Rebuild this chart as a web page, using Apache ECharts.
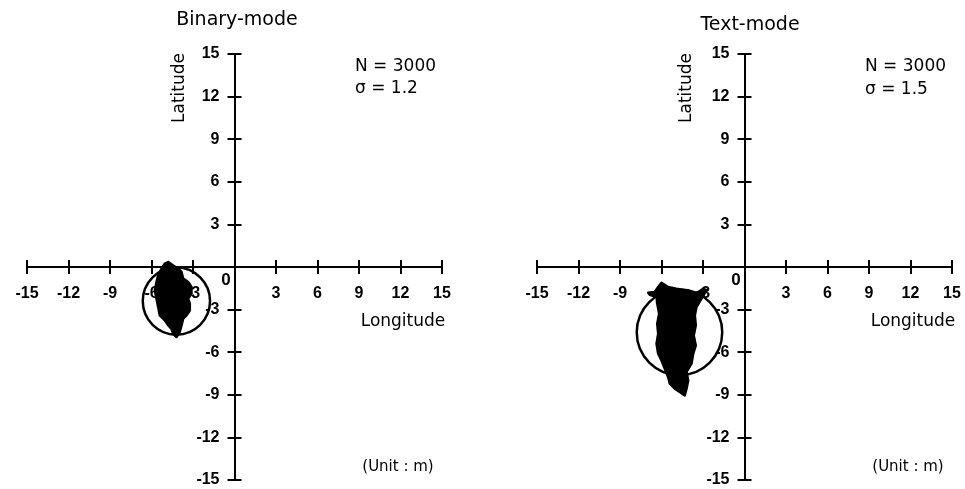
<!DOCTYPE html>
<html>
<head>
<meta charset="utf-8">
<script src="https://cdn.jsdelivr.net/npm/echarts@6/dist/echarts.min.js"></script>
<style>html,body{margin:0;padding:0;background:#fff}#c{width:965px;height:489px}</style>
</head>
<body>
<div id="c"></div>
<script>
// ---- data ----
const axisMin = -15, axisMax = 15, axisStep = 3;
const panelTitles = ['Binary-mode', 'Text-mode'];
const sampleCounts = ['N = 3000', 'N = 3000'];
const sigmaTexts = ['σ = 1.2', 'σ = 1.5'];
// 2-sigma circles: [centre x, centre y, radius] (m)
const binaryCircle = [[-4.2, -2.4, 2.4]];
const textCircle = [[-4.7, -4.6, 3.05]];
// outline of the dense position cloud (longitude, latitude) in m
const binaryCloud = [
  [-4.79, 0.35], [-4.43, 0.11], [-4.07, -0.12], [-3.83, -0.35], [-3.71, -0.82],
  [-3.35, -1.06], [-3.11, -1.41], [-3.11, -1.88], [-3.35, -2.23], [-3.23, -2.58],
  [-3.23, -3.06], [-3.47, -3.41], [-3.71, -3.64], [-3.83, -4.11], [-3.96, -4.58],
  [-4.19, -4.93], [-4.43, -4.70], [-4.56, -4.35], [-4.79, -4.11], [-5.04, -3.76],
  [-5.40, -3.41], [-5.52, -2.82], [-5.64, -2.23], [-5.76, -1.65], [-5.64, -1.06],
  [-5.52, -0.59], [-5.28, -0.12], [-5.04, 0.23]
];
const textCloud = [
  [-6.00, -1.11], [-5.52, -1.41], [-4.92, -1.53], [-4.19, -1.65], [-3.71, -1.88],
  [-3.35, -1.76], [-2.99, -1.53], [-2.75, -1.65], [-3.11, -2.23], [-3.47, -2.82],
  [-3.59, -3.41], [-3.52, -4.11], [-3.67, -4.82], [-3.52, -5.52], [-3.71, -6.11],
  [-3.83, -6.81], [-4.19, -7.39], [-4.07, -7.99], [-4.19, -8.57], [-4.32, -9.04],
  [-4.68, -8.80], [-5.04, -8.57], [-5.40, -8.22], [-5.52, -7.75], [-5.76, -7.16],
  [-6.00, -6.58], [-6.24, -6.11], [-6.36, -5.40], [-6.24, -4.70], [-6.31, -3.99],
  [-6.17, -3.29], [-6.31, -2.58], [-6.36, -2.11], [-6.85, -1.95], [-6.96, -1.81],
  [-6.49, -1.76], [-6.24, -1.41]
];

// ---- chart ----
const FONT = 'DejaVu Sans';
const TICKFONT = 'Liberation Sans';
const black = '#000';
const GW = 415, GH = 426;
const chart = echarts.init(document.getElementById('c'));

const fmt = v => (v === 0 ? '' : String(v));

function xAxes(grid) {
  const common = {
    type: 'value', gridIndex: grid, min: axisMin, max: axisMax, interval: axisStep,
    position: 'bottom', offset: -GH / 2,
    splitLine: { show: false },
    axisLine: { onZero: false, lineStyle: { color: black, width: 2 } }
  };
  return [
    Object.assign({}, common, {
      axisTick: { inside: false, length: 7, lineStyle: { color: black, width: 2 } },
      axisLabel: { margin: 19, color: black, fontFamily: TICKFONT, fontSize: 16,
        fontWeight: 'bold', formatter: fmt }
    }),
    Object.assign({}, common, {
      axisTick: { inside: true, length: 7, lineStyle: { color: black, width: 2 } },
      axisLabel: { show: false }
    })
  ];
}
function yAxes(grid) {
  const common = {
    type: 'value', gridIndex: grid, min: axisMin, max: axisMax, interval: axisStep,
    position: 'left', offset: -GW / 2,
    splitLine: { show: false },
    axisLine: { onZero: false, lineStyle: { color: black, width: 2 } }
  };
  return [
    Object.assign({}, common, {
      axisTick: { inside: false, length: 7, lineStyle: { color: black, width: 2 } },
      axisLabel: { margin: 15, color: black, fontFamily: TICKFONT, fontSize: 16,
        fontWeight: 'bold', formatter: fmt }
    }),
    Object.assign({}, common, {
      axisTick: { inside: true, length: 7, lineStyle: { color: black, width: 2 } },
      axisLabel: { show: false }
    })
  ];
}

function cloudSeries(points, ax) {
  return {
    type: 'custom', xAxisIndex: ax, yAxisIndex: ax, data: points, z: 5,
    renderItem: function (params, api) {
      if (params.dataIndex !== 0) return null;
      const pts = points.map(p => api.coord(p));
      return { type: 'polygon', shape: { points: pts },
        style: { fill: black, stroke: black, lineWidth: 2.5, lineJoin: 'round' } };
    }
  };
}
function circleSeries(data, ax) {
  return {
    type: 'custom', xAxisIndex: ax, yAxisIndex: ax, data: data, z: 6,
    renderItem: function (params, api) {
      const c = api.coord([api.value(0), api.value(1)]);
      const s = api.size([api.value(2), api.value(2)]);
      return { type: 'circle', shape: { cx: c[0], cy: c[1], r: (s[0] + s[1]) / 2 },
        style: { fill: 'none', stroke: black, lineWidth: 2.5 } };
    }
  };
}

function txt(x, y, text, size, extra) {
  const el = {
    type: 'text', x: x, y: y,
    style: Object.assign({ text: text, fill: black, fontFamily: FONT, fontSize: size,
      textAlign: 'center', textVerticalAlign: 'middle' }, (extra && extra.style) || {})
  };
  if (extra && extra.rotation) el.rotation = extra.rotation;
  return el;
}

const option = {
  animation: false,
  backgroundColor: '#fff',
  grid: [
    { left: 27, top: 54, width: GW, height: GH, outerBoundsMode: 'none', containLabel: false },
    { left: 537, top: 54, width: GW, height: GH, outerBoundsMode: 'none', containLabel: false }
  ],
  xAxis: [].concat(xAxes(0), xAxes(1)),
  yAxis: [].concat(yAxes(0), yAxes(1)),
  series: [
    cloudSeries(binaryCloud, 0),
    circleSeries(binaryCircle, 0),
    cloudSeries(textCloud, 2),
    circleSeries(textCircle, 2)
  ],
  graphic: [
    txt(237, 20, panelTitles[0], 19),
    txt(750, 25, panelTitles[1], 19),
    txt(180, 88, 'Latitude', 17, { rotation: Math.PI / 2 }),
    txt(687, 88, 'Latitude', 17, { rotation: Math.PI / 2 }),
    txt(403, 322, 'Longitude', 17),
    txt(913, 322, 'Longitude', 17),
    txt(355, 67, sampleCounts[0], 17, { style: { textAlign: 'left' } }),
    txt(355, 89, sigmaTexts[0], 17, { style: { textAlign: 'left' } }),
    txt(865, 67, sampleCounts[1], 17, { style: { textAlign: 'left' } }),
    txt(865, 90, sigmaTexts[1], 17, { style: { textAlign: 'left' } }),
    txt(398, 467, '(Unit : m)', 15),
    txt(908, 467, '(Unit : m)', 15),
    txt(226, 280, '0', 17, { style: { fontFamily: TICKFONT, fontWeight: 'bold' } }),
    txt(736, 280, '0', 17, { style: { fontFamily: TICKFONT, fontWeight: 'bold' } })
  ]
};
chart.setOption(option);
</script>
</body>
</html>
